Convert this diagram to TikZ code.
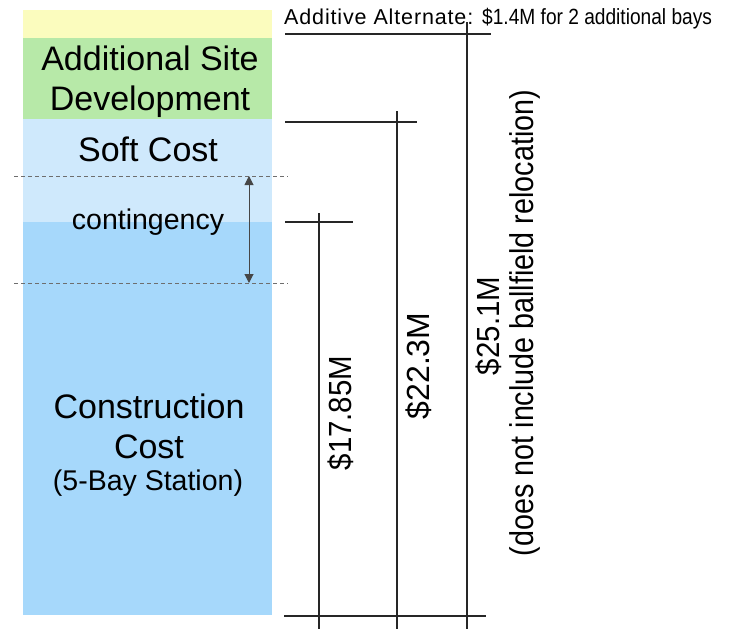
\documentclass[tikz,border=0pt]{standalone}
\usepackage{fontspec}
\setmainfont{Liberation Sans}
\newfontfamily\narrowfont[FakeStretch=0.87]{Liberation Sans}
\newfontfamily\dimfont[FakeStretch=0.92]{Liberation Sans}
\newfontfamily\widefont[LetterSpace=4]{Liberation Sans}
\usetikzlibrary{arrows.meta}
\definecolor{cyellow}{RGB}{251,252,190}
\definecolor{cgreen}{RGB}{183,233,168}
\definecolor{clight}{RGB}{207,233,252}
\definecolor{cblue}{RGB}{166,216,251}
\definecolor{cdash}{RGB}{110,110,110}
\definecolor{carrow}{RGB}{70,70,70}
\begin{document}
\begin{tikzpicture}[x=1pt,y=-1pt,
  boxtext/.style={inner sep=0pt,anchor=base,font=\fontsize{34}{40}\selectfont},
  smalltext/.style={inner sep=0pt,anchor=base,font=\fontsize{28.5}{32}\selectfont},
  dimtext/.style={inner sep=0pt,rotate=90,font=\dimfont\fontsize{32}{36}\selectfont},
  notetext/.style={inner sep=0pt,anchor=base west,font=\widefont\fontsize{21.5}{24}\selectfont},
  dimline/.style={line width=1.3pt,black!85},
  dashline/.style={cdash,line width=0.9pt,dash pattern=on 4pt off 3pt},
  bothtips/.style={carrow,line width=1pt,{Triangle[length=9pt,width=9pt]}-{Triangle[length=9pt,width=9pt]}}]
\useasboundingbox (0,0) rectangle (749,629);
% stacked bars
\fill[cyellow] (23,10) rectangle (272,38);
\fill[cgreen] (23,38) rectangle (272,119);
\fill[clight] (23,119) rectangle (272,222);
\fill[cblue] (23,222) rectangle (272,615);
% box texts
\node[boxtext] (site1) at (150,70) {Additional Site};
\node[boxtext] (site2) at (150,110) {Development};
\node[boxtext] (soft) at (148,161) {Soft Cost};
\node[smalltext] (cont) at (148,229) {contingency};
\node[boxtext] (cons1) at (149,418) {Construction};
\node[boxtext] (cons2) at (149,458) {Cost};
\node[smalltext] (cons3) at (148,490) {(5-Bay Station)};
% dashed lines and contingency arrow
\coordinate (d1l) at (14,176); \coordinate (d1r) at (288,176);
\coordinate (d2l) at (14,283); \coordinate (d2r) at (288,283);
\draw[dashline] (d1l) -- (d1r);
\draw[dashline] (d2l) -- (d2r);
\coordinate (a1) at (249,176); \coordinate (a2) at (249,283);
\draw[bothtips] (a1) -- (a2);
% dimension lines
\coordinate (h1l) at (285,34); \coordinate (h1r) at (491,34);
\coordinate (h2l) at (285,122); \coordinate (h2r) at (417,122);
\coordinate (h3l) at (285,222); \coordinate (h3r) at (353,222);
\coordinate (h4l) at (284,616); \coordinate (h4r) at (486,616);
\coordinate (v1t) at (467,22); \coordinate (v1b) at (467,629);
\coordinate (v2t) at (397,111); \coordinate (v2b) at (397,629);
\coordinate (v3t) at (319,213); \coordinate (v3b) at (319,629);
\draw[dimline] (h1l) -- (h1r);
\draw[dimline] (h2l) -- (h2r);
\draw[dimline] (h3l) -- (h3r);
\draw[dimline] (h4l) -- (h4r);
\draw[dimline] (v1t) -- (v1b);
\draw[dimline] (v2t) -- (v2b);
\draw[dimline] (v3t) -- (v3b);
% dimension labels
\node[dimtext] (p1) at (341,413) {\$17.85M};
\node[dimtext,font=\fontsize{32}{36}\selectfont] (p2) at (419,366) {\$22.3M};
\node[dimtext] (p3) at (489,326) {\$25.1M};
\node[dimtext,font=\narrowfont\fontsize{33}{36}\selectfont] (p4) at (525,323) {(does not include ballfield relocation)};
% top note
\node[notetext] (alt) at (284,24) {Additive Alternate:};
\node[notetext,font=\narrowfont\fontsize{22}{24}\selectfont] (alt2) at (482,24) {\$1.4M for 2 additional bays};
\end{tikzpicture}
\end{document}
